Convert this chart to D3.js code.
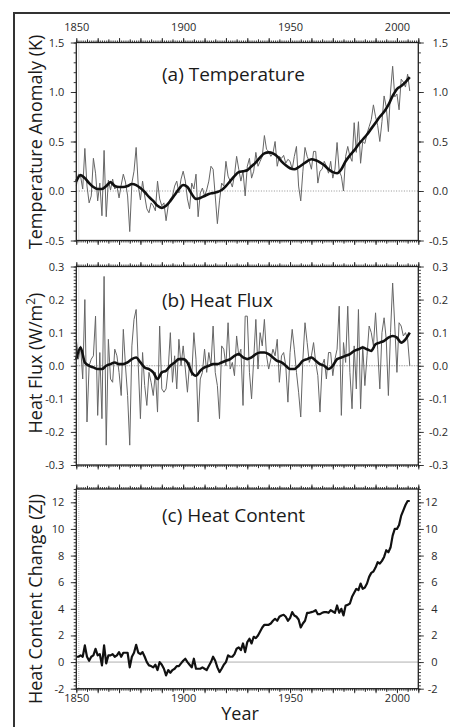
<!DOCTYPE html>
<html>
<head>
<meta charset="utf-8">
<script src="https://cdn.jsdelivr.net/npm/d3@7"></script>
<style>
    html, body { margin: 0; padding: 0; background: #fff; }
    svg { display: block; }
</style>
</head>
<body>
<div id="chart"></div>
<script>
// =============================================================================
// Three stacked panels sharing one year axis: (a) temperature anomaly,
// (b) heat flux, (c) heat content change.
// =============================================================================

const years = d3.range(1850, 2007);          // annual series, 1850..2006
const smoothYears = d3.range(1850, 2007, 2); // smoothed curves, read every 2 yr

const tempAnnual = [
    0.05, 0.17, 0.15, 0.02, 0.43, 0.05, -0.12, -0.05, 0.33, 0.18,
    -0.10, 0.08, -0.25, 0.41, -0.26, 0.11, 0.01, 0.12, 0.02, 0.05,
    -0.07, 0.06, 0.17, 0.09, -0.05, -0.41, 0.08, 0.20, 0.44, 0.05,
    -0.09, 0.10, -0.05, -0.18, -0.22, -0.12, -0.15, -0.20, 0.10, -0.08,
    -0.15, -0.12, -0.30, -0.15, -0.08, -0.05, 0.05, 0.10, -0.02, 0.12,
    0.20, 0.10, -0.08, -0.18, 0.08, 0.02, 0.17, -0.26, -0.02, 0.03,
    -0.05, 0.01, 0.10, 0.25, 0.22, -0.05, -0.33, -0.10, 0.08, 0.05,
    0.30, 0.15, 0.10, 0.04, 0.16, 0.35, 0.22, 0.10, 0.20, -0.05,
    0.25, 0.33, 0.13, 0.20, 0.39, 0.25, 0.30, 0.35, 0.56, 0.42,
    0.40, 0.35, 0.38, 0.50, 0.25, 0.35, 0.33, 0.36, 0.28, 0.32,
    0.30, 0.22, 0.35, 0.45, 0.05, -0.10, 0.20, 0.44, 0.35, 0.30,
    0.22, 0.40, 0.40, 0.08, 0.20, 0.22, 0.30, 0.25, 0.18, 0.30,
    0.13, 0.22, 0.49, 0.20, 0.15, 0.00, 0.35, 0.45, 0.35, 0.30,
    0.69, 0.39, 0.70, 0.28, 0.50, 0.48, 0.58, 0.65, 0.72, 0.87,
    0.75, 0.66, 0.50, 0.70, 0.96, 0.85, 0.60, 1.00, 1.26, 0.95,
    0.98, 0.82, 1.13, 1.10, 1.05, 1.18, 1.01
];
const tempSmooth = [
    0.10, 0.16, 0.13, 0.08, 0.04, 0.02, 0.02, 0.05, 0.09, 0.05,
    0.04, 0.04, 0.05, 0.07, 0.06, 0.03, -0.01, -0.06, -0.10, -0.15,
    -0.17, -0.15, -0.10, -0.04, 0.02, 0.06, 0.04, -0.03, -0.08, -0.07,
    -0.05, -0.03, -0.02, -0.01, 0.01, 0.05, 0.10, 0.15, 0.19, 0.20,
    0.21, 0.25, 0.29, 0.34, 0.38, 0.39, 0.38, 0.35, 0.30, 0.26,
    0.23, 0.22, 0.24, 0.27, 0.30, 0.32, 0.31, 0.29, 0.26, 0.22,
    0.19, 0.18, 0.22, 0.30, 0.36, 0.41, 0.47, 0.52, 0.57, 0.63,
    0.69, 0.75, 0.80, 0.87, 0.96, 1.03, 1.06, 1.10, 1.15
];

const fluxAnnual = [
    0.08, 0.02, 0.06, -0.04, 0.20, -0.17, 0.00, 0.02, 0.03, 0.15,
    -0.15, 0.04, -0.16, 0.27, -0.24, 0.08, -0.04, -0.05, 0.05, 0.03,
    -0.02, -0.09, 0.11, 0.00, -0.09, -0.24, 0.06, 0.14, 0.17, 0.00,
    -0.16, 0.04, -0.06, -0.12, -0.02, -0.05, -0.09, -0.02, -0.14, 0.12,
    -0.07, -0.08, -0.07, -0.01, 0.10, -0.05, 0.03, -0.07, 0.08, 0.00,
    0.06, -0.01, -0.08, 0.01, -0.03, 0.10, 0.02, -0.17, -0.04, -0.02,
    0.05, -0.02, 0.04, 0.00, 0.12, -0.02, -0.06, -0.16, 0.06, 0.05,
    0.00, 0.13, -0.01, 0.01, -0.03, 0.09, 0.03, 0.05, -0.12, 0.15,
    0.15, -0.02, -0.10, 0.02, 0.14, -0.01, 0.10, 0.06, 0.14, 0.03,
    -0.01, 0.02, 0.05, 0.03, 0.08, -0.05, 0.03, 0.04, 0.00, -0.11,
    0.04, 0.11, 0.05, -0.02, -0.08, -0.155, 0.02, 0.13, 0.07, 0.01,
    0.03, 0.07, 0.01, -0.03, -0.14, 0.00, 0.02, -0.04, 0.04, 0.04,
    -0.03, 0.02, 0.05, 0.18, -0.15, 0.07, 0.01, 0.18, -0.02, -0.13,
    0.06, -0.07, 0.17, -0.13, 0.06, -0.06, 0.03, 0.12, 0.10, 0.06,
    0.16, 0.05, -0.07, 0.10, 0.145, 0.08, -0.09, 0.10, 0.25, 0.12,
    -0.02, 0.13, 0.12, 0.09, 0.10, 0.08, 0.00
];
const fluxSmooth = [
    0.020, 0.055, 0.010, 0.000, -0.005, -0.010, -0.010, 0.000, 0.005, 0.010,
    0.005, 0.005, 0.010, 0.020, 0.025, 0.010, -0.005, -0.010, -0.020, -0.040,
    -0.020, -0.015, 0.000, 0.010, 0.020, 0.020, 0.010, -0.020, -0.030, -0.015,
    -0.005, 0.000, 0.005, 0.005, 0.010, 0.015, 0.020, 0.030, 0.035, 0.025,
    0.020, 0.025, 0.035, 0.040, 0.040, 0.035, 0.025, 0.015, 0.010, 0.000,
    -0.010, -0.010, 0.000, 0.015, 0.020, 0.025, 0.015, 0.005, 0.000, -0.010,
    0.000, 0.020, 0.025, 0.030, 0.035, 0.045, 0.050, 0.055, 0.050, 0.045,
    0.065, 0.070, 0.075, 0.085, 0.090, 0.085, 0.070, 0.080, 0.100
];

const heatContent = [
    0.4, 0.4, 0.5, 0.4, 1.25, 0.4, 0.1, 0.4, 0.5, 1.0,
    0.5, 0.6, -0.25, 1.25, -0.1, 0.5, 0.5, 0.6, 0.4, 0.5,
    0.75, 0.4, 0.7, 0.7, 0.7, -0.4, 0.4, 0.7, 1.3, 0.7,
    0.6, 0.75, 0.4, 0.0, -0.25, -0.3, -0.4, -0.2, -0.6, 0.0,
    -0.2, -0.5, -1.0, -0.6, -0.8, -0.6, -0.5, -0.3, -0.3, -0.1,
    0.1, 0.25, 0.0, -0.2, -0.4, 0.25, -0.5, -0.5, -0.5, -0.4,
    -0.5, -0.6, -0.3, 0.0, 0.4, 0.1, -0.4, -0.75, -0.5, -0.2,
    0.0, 0.5, 0.4, 0.4, 0.6, 1.0, 1.1, 0.9, 1.4, 0.75,
    1.5, 1.75, 1.4, 1.9, 1.8, 2.0, 2.3, 2.6, 2.8, 2.8,
    2.8, 2.9, 3.1, 3.25, 3.1, 3.4, 3.5, 3.55, 3.4, 3.1,
    3.3, 3.75, 3.5, 3.4, 3.2, 2.6, 2.9, 3.1, 3.7, 3.7,
    3.75, 3.8, 3.9, 3.6, 3.6, 3.7, 3.75, 3.75, 3.7, 3.9,
    3.8, 3.7, 4.25, 3.7, 4.0, 3.5, 4.25, 4.3, 4.4, 4.9,
    5.2, 5.5, 5.4, 5.9, 5.5, 5.6, 5.9, 6.4, 6.7, 6.8,
    7.1, 7.5, 7.4, 7.6, 7.9, 8.4, 8.25, 8.6, 9.5, 10.0,
    10.0, 10.3, 11.0, 11.4, 11.8, 12.1, 12.1
];

const yearLabels = [1850, 1900, 1950, 2000];
const tempTicks = [-0.5, 0.0, 0.5, 1.0, 1.5];
const fluxTicks = [-0.3, -0.2, -0.1, 0.0, 0.1, 0.2, 0.3];
const heatTicks = [-2, 0, 2, 4, 6, 8, 10, 12];

// ---- layout -----------------------------------------------------------------
const W = 450, H = 727;
const FONT = "'Open Sans', 'Noto Sans', sans-serif";
const INK = "#1a1a1a", TICKINK = "#2a2a2a";
const x = d3.scaleLinear().domain([1850, 2010]).range([76.3, 418.3]);
const [X0, X1] = x.range();

const panels = [
    { top: 42.5, bottom: 240.5, domain: [-0.5, 1.5], major: tempTicks, minorStep: 0.1,
      fmt: v => v.toFixed(1), rightEnd: 448, title: "(a) Temperature", titleY: 80.5,
      label: ["Temperature Anomaly (K)"], labelY: 142, zero: { stroke: "#777", dash: "1,1.6" },
      annual: tempAnnual, smooth: tempSmooth, topLabels: true },
    { top: 266.5, bottom: 465, domain: [-0.3, 0.3], major: fluxTicks, minorStep: 0.01,
      fmt: v => v.toFixed(1), rightEnd: 448, title: "(b) Heat Flux", titleY: 307,
      label: ["Heat Flux (W/m", "2", ")"], labelY: 363, zero: { stroke: "#888", dash: "1.5,1" },
      annual: fluxAnnual, smooth: fluxSmooth },
    { top: 489, bottom: 688.7, domain: [-2, 13], major: heatTicks, minorStep: 0.25,
      fmt: v => String(v), rightEnd: 437.5, title: "(c) Heat Content", titleY: 521.5,
      label: ["Heat Content Change (ZJ)"], labelY: 599, zero: { stroke: "#999", dash: null },
      content: heatContent, bottomLabels: true }
];

const svg = d3.select("#chart").append("svg")
    .attr("width", W).attr("height", H)
    .attr("viewBox", `0 0 ${W} ${H}`)
    .style("background", "#fff");

// outer frame, cut off by the page on the right and at the bottom
svg.append("path").attr("d", "M14,760 V13 H470")
    .attr("fill", "none").attr("stroke", "#333").attr("stroke-width", 2);

// tickLayer — one set of same-length ticks; the domain line is dropped
// because the panel box is drawn separately.
function tickLayer(g, axis, values, size, fmt) {
    g.call(axis.tickValues(values).tickSize(size).tickFormat(fmt || (() => "")));
    g.select(".domain").remove();
    g.selectAll("line").attr("stroke", "#222").attr("stroke-width", 0.9);
    g.selectAll("text").attr("fill", TICKINK).style("font-family", FONT).style("font-size", "11px");
    return g;
}

function stepValues(d0, d1, step) {
    const n = Math.round((d1 - d0) / step);
    return d3.range(n + 1).map(i => +(d0 + i * step).toFixed(4));
}

function drawPanel(p) {
    const y = d3.scaleLinear().domain(p.domain).range([p.bottom, p.top]);
    const g = svg.append("g");

    // year ticks on top and bottom edges: every year, every 5, every 10
    const allYears = d3.range(1850, 2011);
    const sizes = [[allYears, 2], [allYears.filter(d => d % 5 === 0), 3.2], [allYears.filter(d => d % 10 === 0), 4.5]];
    for (const [vals, s] of sizes) {
        tickLayer(g.append("g").attr("transform", `translate(0,${p.top})`), d3.axisTop(x), vals, s);
        tickLayer(g.append("g").attr("transform", `translate(0,${p.bottom})`), d3.axisBottom(x), vals, s);
    }
    if (p.topLabels) {
        tickLayer(g.append("g").attr("transform", `translate(0,${p.top})`), d3.axisTop(x), yearLabels, 0, d3.format("d"))
            .selectAll("text").attr("y", -11.8);
    }
    if (p.bottomLabels) {
        tickLayer(g.append("g").attr("transform", `translate(0,${p.bottom})`), d3.axisBottom(x), yearLabels, 0, d3.format("d"))
            .selectAll("text").attr("y", 13.3).attr("dy", 0);
    }

    // value ticks, outward on both sides
    const minor = stepValues(p.domain[0], p.domain[1], p.minorStep);
    tickLayer(g.append("g").attr("transform", `translate(${X0},0)`), d3.axisLeft(y), minor, 2.6);
    tickLayer(g.append("g").attr("transform", `translate(${X1},0)`), d3.axisRight(y), minor, 2.6);
    tickLayer(g.append("g").attr("transform", `translate(${X0},0)`), d3.axisLeft(y), p.major, 5.5, p.fmt)
        .selectAll("text").attr("x", -12);
    tickLayer(g.append("g").attr("transform", `translate(${X1},0)`), d3.axisRight(y), p.major, 5.5, p.fmt)
        .selectAll("text").attr("text-anchor", "end").attr("x", p.rightEnd - X1);

    // faint dotted guide just inside the left edge
    g.append("line").attr("x1", X0 + 2.5).attr("x2", X0 + 2.5)
        .attr("y1", p.top).attr("y2", p.bottom)
        .attr("stroke", "#bbb").attr("stroke-dasharray", "1,1");

    // zero line
    g.append("line").attr("x1", X0).attr("x2", X1)
        .attr("y1", y(0)).attr("y2", y(0))
        .attr("stroke", p.zero.stroke).attr("stroke-width", 0.8)
        .attr("stroke-dasharray", p.zero.dash);

    const line = xs => d3.line().x((d, i) => x(xs[i])).y(d => y(d));
    if (p.annual) {
        g.append("path").datum(p.annual).attr("d", line(years))
            .attr("fill", "none").attr("stroke", "#666").attr("stroke-width", 1)
            .attr("stroke-linejoin", "round");
        g.append("path").datum(p.smooth).attr("d", line(smoothYears).curve(d3.curveMonotoneX))
            .attr("fill", "none").attr("stroke", "#111").attr("stroke-width", 2.6)
            .attr("stroke-linejoin", "round");
    }
    if (p.content) {
        g.append("path").datum(p.content).attr("d", line(years))
            .attr("fill", "none").attr("stroke", "#111").attr("stroke-width", 2.2)
            .attr("stroke-linejoin", "round");
    }

    // panel box
    g.append("rect").attr("x", X0).attr("y", p.top)
        .attr("width", X1 - X0).attr("height", p.bottom - p.top)
        .attr("fill", "none").attr("stroke", "#222").attr("stroke-width", 1.3);

    g.append("text").attr("x", 162).attr("y", p.titleY)
        .attr("fill", INK).style("font-family", FONT).style("font-size", "19px")
        .text(p.title);

    const lab = g.append("text")
        .attr("transform", `translate(42,${p.labelY}) rotate(-90)`)
        .attr("text-anchor", "middle")
        .attr("fill", INK).style("font-family", FONT).style("font-size", "18px");
    lab.append("tspan").text(p.label[0]);
    if (p.label.length > 1) {
        lab.append("tspan").attr("dy", -7).style("font-size", "12px").text(p.label[1]);
        lab.append("tspan").attr("dy", 7).text(p.label[2]);
    }
}

panels.forEach(drawPanel);

svg.append("text").attr("x", 240).attr("y", 720)
    .attr("text-anchor", "middle")
    .attr("fill", INK).style("font-family", FONT).style("font-size", "18px")
    .text("Year");
</script>
</body>
</html>
